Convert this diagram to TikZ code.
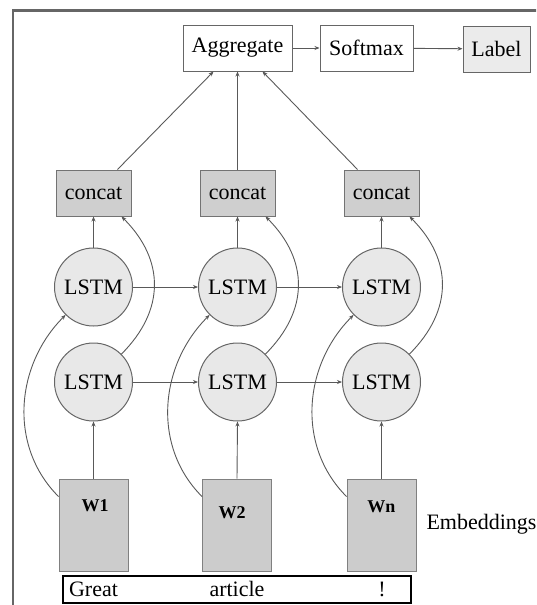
\documentclass[tikz,border=0pt]{standalone}
\usepackage{fontspec}
\setmainfont{Liberation Serif}
\usetikzlibrary{arrows.meta}
\begin{document}
\begin{tikzpicture}[x=1pt,y=1pt,
  every node/.style={font=\fontsize{22}{26}\selectfont, text=black},
  plainbox/.style={draw=black!60, line width=1pt, fill=white, inner sep=0pt, minimum height=46},
  catbox/.style={draw=black!55, line width=1pt, fill=black!19, minimum width=75, minimum height=46, inner sep=0pt},
  cell/.style={circle, draw=black!60, line width=1pt, fill=black!9, minimum size=78, inner sep=0pt},
  embbox/.style={draw=black!50, line width=1pt, fill=black!20, minimum width=69, minimum height=92, inner sep=0pt},
  wlabel/.style={font=\fontsize{18}{21}\selectfont\bfseries},
  arr/.style={draw=black!65, line width=0.9pt, -{Stealth[length=5pt,width=4pt,fill=black]}},
]
\useasboundingbox (0,0) rectangle (536,-605);
\clip (0,0) rectangle (536,-605);

% outer frame
\draw[black!60, line width=2.8pt] (13,-620) -- (13,-10.5) -- (560,-10.5);

% output chain
\node[plainbox, minimum width=109] (agg) at (237.5,-48) {Aggregate};
\node[plainbox, minimum width=93] (soft) at (366.5,-48) {Softmax};
\node[plainbox, fill=black!8, minimum width=67] (lab) at (496.5,-49) {Label};
\draw[arr] (agg) -- (soft);
\draw[arr] (soft) -- (lab);

% concatenation of both directions
\node[catbox] (c1) at (93.5,-193) {concat};
\node[catbox] (c2) at (237.5,-193) {concat};
\node[catbox] (c3) at (381.5,-193) {concat};

% recurrent cells
\node[cell] (f1) at (93.5,-287) {LSTM};
\node[cell] (f2) at (237.5,-287) {LSTM};
\node[cell] (f3) at (381.5,-287) {LSTM};
\node[cell] (b1) at (93.5,-382) {LSTM};
\node[cell] (b2) at (237.5,-382) {LSTM};
\node[cell] (b3) at (381.5,-382) {LSTM};

% word embeddings
\node[embbox] (w1) at (93.5,-525) {};
\node[embbox] (w2) at (237,-525) {};
\node[embbox] (w3) at (381.5,-525) {};
\node[wlabel] (t1) at (95,-506) {W1};
\node[wlabel] (t2) at (232,-513) {W2};
\node[wlabel] (t3) at (381.5,-507) {Wn};
\node[anchor=west] (emb) at (423,-524) {Embeddings};

% input sentence
\node[draw=black, line width=2pt, minimum width=348, minimum height=27, inner sep=0pt] (sent) at (237,-589.5) {};
\node (g1) at (93.5,-589) {Great};
\node (g2) at (237,-589) {article};
\node (g3) at (382,-589) {!};

% concat to aggregate
\draw[arr] ([xshift=24]c1.north) -- ([xshift=-24]agg.south);
\draw[arr] (c2.north) -- (agg.south);
\draw[arr] ([xshift=-24]c3.north) -- ([xshift=25]agg.south);

% per-column connections
\foreach \i in {1,2,3}{
  \draw[arr] (w\i.north) -- (b\i.south);
  \draw[arr] (f\i.north) -- (c\i.south);
  \draw[arr] ([yshift=-18]w\i.north west) to[out=135,in=225] (f\i.225);
  \draw[arr] (b\i.45) to[out=45,in=-45,looseness=1.15] ([xshift=-10]c\i.south east);
}

% recurrences along the sequence
\draw[arr] (f1) -- (f2);
\draw[arr] (f2) -- (f3);
\draw[arr] (b1) -- (b2);
\draw[arr] (b2) -- (b3);
\end{tikzpicture}
\end{document}
